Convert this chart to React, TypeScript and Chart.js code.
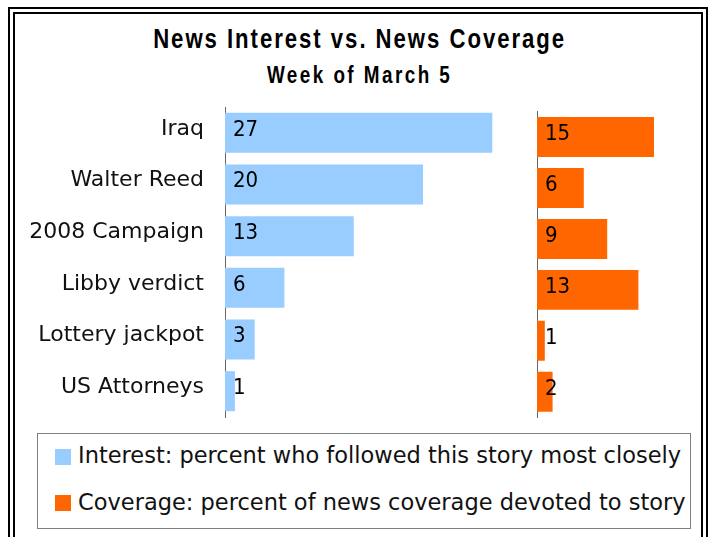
import React, { useEffect, useRef } from "react";
import { Chart, registerables } from "chart.js";

Chart.register(...registerables);

const categories = [
  "Iraq",
  "Walter Reed",
  "2008 Campaign",
  "Libby verdict",
  "Lottery jackpot",
  "US Attorneys",
];
const interestValues = [27, 20, 13, 6, 3, 1];
const coverageValues = [15, 6, 9, 13, 1, 2];
const legendLabels = [
  "Interest: percent who followed this story most closely",
  "Coverage: percent of news coverage devoted to story",
];
const titleText = "News Interest vs. News Coverage";
const subtitleText = "Week of March 5";

const BLUE = "#99CCFF";
const ORANGE = "#FF6600";
const SANS = '"DejaVu Sans", Verdana, sans-serif';
const VALUE_FONT = '22px "DejaVu Sans Condensed", "DejaVu Sans", sans-serif';
const TITLE_FAMILY = '"Liberation Sans", Arial, sans-serif';

const valueLabelPlugin = {
  id: "valueLabels",
  afterDatasetsDraw(chart: any) {
    const ctx = chart.ctx;
    const xScale = chart.scales.x;
    const base = xScale.getPixelForValue(0);
    chart.data.datasets.forEach((ds: any, i: number) => {
      const meta = chart.getDatasetMeta(i);
      meta.data.forEach((el: any, j: number) => {
        ctx.save();
        ctx.font = VALUE_FONT;
        ctx.fillStyle = "#000";
        ctx.textAlign = "left";
        ctx.textBaseline = "middle";
        ctx.fillText(String(ds.data[j]), base + 8, el.y - 3);
        ctx.restore();
      });
    });
  },
};

function makeConfig(
  values: number[],
  color: string,
  barPct: number,
  max: number,
  padding: any,
  axisWidth: number,
  showLabels: boolean
): any {
  return {
    type: "bar",
    data: {
      labels: categories,
      datasets: [
        {
          data: values,
          backgroundColor: color,
          borderWidth: 0,
          barPercentage: barPct,
          categoryPercentage: 1,
        },
      ],
    },
    options: {
      indexAxis: "y",
      animation: false,
      responsive: false,
      maintainAspectRatio: false,
      layout: { padding },
      plugins: {
        legend: { display: false },
        tooltip: { enabled: false },
        title: { display: false },
      },
      scales: {
        x: { display: false, min: 0, max },
        y: {
          grid: { display: false, drawTicks: false },
          border: { display: true, color: "#666", width: 1 },
          ticks: {
            display: showLabels,
            color: "#111",
            font: { family: SANS, size: 22 },
            padding: 21,
            labelOffset: -4,
          },
          afterFit(s: any) {
            s.width = axisWidth;
            s.paddingTop = 0;
            s.paddingBottom = 0;
          },
        },
      },
    },
    plugins: [valueLabelPlugin],
  };
}

export default function App() {
  const leftRef = useRef<HTMLCanvasElement | null>(null);
  const rightRef = useRef<HTMLCanvasElement | null>(null);

  useEffect(() => {
    const left = new Chart(
      leftRef.current as HTMLCanvasElement,
      makeConfig(
        interestValues,
        BLUE,
        0.774,
        30,
        { top: 7, bottom: 13, left: 0, right: 8 },
        205,
        true
      )
    );
    const right = new Chart(
      rightRef.current as HTMLCanvasElement,
      makeConfig(
        coverageValues,
        ORANGE,
        0.784,
        20,
        { top: 11.5, bottom: 12.7, left: 0, right: 7 },
        7,
        false
      )
    );
    return () => {
      left.destroy();
      right.destroy();
    };
  }, []);

  const abs = (s: React.CSSProperties): React.CSSProperties => ({
    position: "absolute",
    ...s,
  });

  return (
    <div
      style={{
        position: "absolute",
        left: 0,
        top: 0,
        width: 708,
        height: 537,
        overflow: "hidden",
        background: "#fff",
      }}
    >
      <div
        style={abs({
          left: 8,
          top: 7,
          width: 700,
          height: 560,
          border: "7px double #000",
          boxSizing: "border-box",
          background: "#fff",
        })}
      />
      <div
        style={abs({
          left: 8,
          width: 700,
          top: 26.4,
          textAlign: "center",
          font: `bold 27px ${TITLE_FAMILY}`,
          lineHeight: "27px",
          letterSpacing: "2.4px",
          color: "#000",
          whiteSpace: "nowrap",
          transform: "scaleX(0.82)",
          transformOrigin: "359px 50%",
        })}
      >
        {titleText}
      </div>
      <div
        style={abs({
          left: 8,
          width: 700,
          top: 63.8,
          textAlign: "center",
          font: `bold 23px ${TITLE_FAMILY}`,
          lineHeight: "23px",
          letterSpacing: "3px",
          color: "#000",
          whiteSpace: "nowrap",
          transform: "scaleX(0.82)",
          transformOrigin: "359px 50%",
        })}
      >
        {subtitleText}
      </div>
      <canvas
        ref={leftRef}
        width={510}
        height={330}
        style={abs({ left: 20, top: 100, width: 510, height: 330 })}
      />
      <canvas
        ref={rightRef}
        width={170}
        height={330}
        style={abs({ left: 530, top: 100, width: 170, height: 330 })}
      />
      <div
        style={abs({
          left: 36.5,
          top: 433,
          width: 654,
          height: 95.5,
          border: "1px solid #808080",
          boxSizing: "border-box",
        })}
      />
      {legendLabels.map((t, i) => (
        <React.Fragment key={t}>
          <div
            style={abs({
              left: 55,
              top: i === 0 ? 449 : 495,
              width: 15.7,
              height: 15.7,
              background: i === 0 ? BLUE : ORANGE,
            })}
          />
          <div
            style={abs({
              left: 78,
              top: i === 0 ? 444.3 : 490.5,
              font: `22.5px ${SANS}`,
              lineHeight: "22.5px",
              color: "#111",
              whiteSpace: "nowrap",
            })}
          >
            {t}
          </div>
        </React.Fragment>
      ))}
    </div>
  );
}
